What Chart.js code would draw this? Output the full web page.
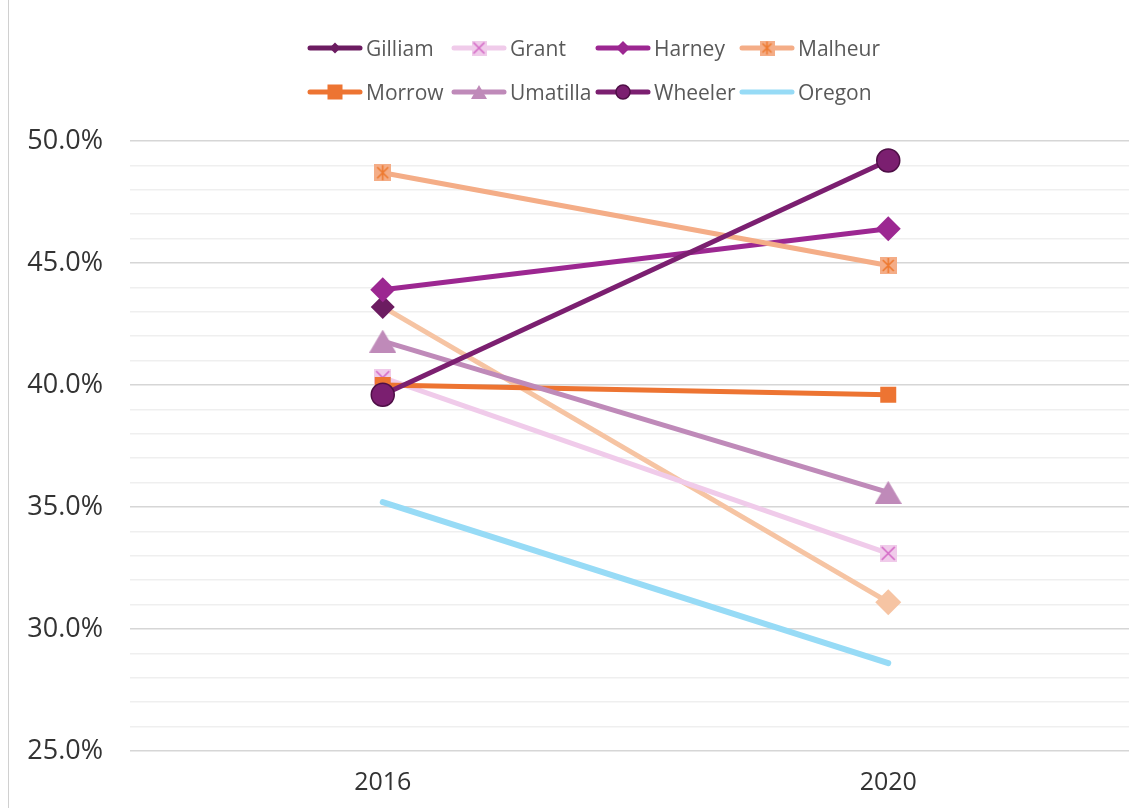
<!DOCTYPE html>
<html>
<head>
<meta charset="utf-8">
<script src="https://cdn.jsdelivr.net/npm/chart.js@4"></script>
<style>
  html, body { margin: 0; padding: 0; background: #fff; overflow: hidden; }
  #marco { position: relative; width: 1129px; height: 808px; overflow: hidden; }
  #borde { position: absolute; left: 8px; top: 0; width: 1px; height: 808px; background: #d0d0d0; }
  #caja { position: absolute; left: 0; top: 0; width: 1141px; height: 808px; }
  #leyenda {
    position: absolute; left: 307px; top: 26px;
    display: grid; grid-template-columns: repeat(4, 144px); grid-auto-rows: 44px;
    font-family: 'Open Sans', sans-serif; font-size: 21px; color: #595959;
  }
  .item { display: flex; align-items: center; white-space: nowrap; }
  .item canvas { margin-right: 3px; }
</style>
</head>
<body>
<div id="marco">
  <div id="borde"></div>
  <div id="caja"><canvas id="grafica" width="1141" height="808"></canvas></div>
  <div id="leyenda"></div>
</div>
<script>
// Datos
const anios = ['2016', '2020'];
const condados = ['Gilliam', 'Grant', 'Harney', 'Malheur', 'Morrow', 'Umatilla', 'Wheeler', 'Oregon'];
const gilliam = [43.2, 31.1];
const grant = [40.3, 33.1];
const harney = [43.9, 46.4];
const malheur = [48.7, 44.9];
const morrow = [40.0, 39.6];
const umatilla = [41.8, 35.6];
const wheeler = [39.6, 49.2];
const oregon = [35.2, 28.6];
const ticksY = [25, 30, 35, 40, 45, 50];

const colores = {
  gilliam: '#6c1c61', gilliamLinea: '#f6c4a3',
  grant: '#f0cbea', grantX: '#d468c6',
  harney: '#9c2791',
  malheur: '#f4ad87', malheurX: '#ee7a30',
  morrow: '#ed7432',
  umatilla: '#bf8ab9',
  wheeler: '#7b1f70', wheelerBorde: '#4e0f46',
  oregon: '#97dbf6'
};

function lienzo(w, h, dibujar) {
  const c = document.createElement('canvas');
  c.width = w; c.height = h;
  dibujar(c.getContext('2d'), w, h);
  return c;
}

// marcadores propios (cuadro con X, cuadro con asterisco, triangulo)
function cuadroX(lado, relleno, trazo) {
  return lienzo(lado, lado, (ctx, w, h) => {
    ctx.fillStyle = relleno;
    ctx.fillRect(0, 0, w, h);
    ctx.strokeStyle = trazo;
    ctx.lineWidth = 1.6;
    ctx.beginPath();
    ctx.moveTo(2, 2); ctx.lineTo(w - 2, h - 2);
    ctx.moveTo(w - 2, 2); ctx.lineTo(2, h - 2);
    ctx.stroke();
  });
}
function cuadroAsterisco(lado, relleno, trazo) {
  return lienzo(lado, lado, (ctx, w, h) => {
    ctx.fillStyle = relleno;
    ctx.fillRect(0, 0, w, h);
    ctx.strokeStyle = trazo;
    ctx.lineWidth = 1.6;
    ctx.beginPath();
    ctx.moveTo(3, 3); ctx.lineTo(w - 3, h - 3);
    ctx.moveTo(w - 3, 3); ctx.lineTo(3, h - 3);
    ctx.moveTo(w / 2, 1); ctx.lineTo(w / 2, h - 1);
    ctx.stroke();
  });
}
function triangulo(ancho, alto, relleno) {
  return lienzo(ancho, alto, (ctx, w, h) => {
    ctx.fillStyle = relleno;
    ctx.beginPath();
    ctx.moveTo(w / 2, 0); ctx.lineTo(w, h); ctx.lineTo(0, h);
    ctx.closePath();
    ctx.fill();
  });
}

const marcaGrant = cuadroX(17, colores.grant, colores.grantX);
const marcaMalheur = cuadroAsterisco(17, colores.malheur, colores.malheurX);
const marcaUmatilla = triangulo(27, 23, colores.umatilla);

const base = { borderWidth: 5, tension: 0, pointBorderWidth: 0 };

const datasets = [
  { ...base, label: 'Gilliam', data: gilliam, borderColor: colores.gilliamLinea,
    pointStyle: 'rectRot', pointRadius: [12, 13],
    pointBackgroundColor: [colores.gilliam, colores.gilliamLinea], pointBorderColor: [colores.gilliam, colores.gilliamLinea] },
  { ...base, label: 'Grant', data: grant, borderColor: colores.grant, pointStyle: marcaGrant, pointRadius: 9 },
  { ...base, label: 'Harney', data: harney, borderColor: colores.harney, backgroundColor: colores.harney,
    pointStyle: 'rectRot', pointRadius: 12.5 },
  { ...base, label: 'Malheur', data: malheur, borderColor: colores.malheur, pointStyle: marcaMalheur, pointRadius: 9 },
  { ...base, label: 'Morrow', data: morrow, borderColor: colores.morrow, backgroundColor: colores.morrow,
    pointStyle: 'rect', pointRadius: 11.3 },
  { ...base, label: 'Umatilla', data: umatilla, borderColor: colores.umatilla, pointStyle: marcaUmatilla, pointRadius: 12 },
  { ...base, label: 'Wheeler', data: wheeler, borderColor: colores.wheeler, backgroundColor: colores.wheeler,
    pointStyle: 'circle', pointRadius: 11.5, pointBorderWidth: 1.5, pointBorderColor: colores.wheelerBorde },
  { ...base, label: 'Oregon', data: oregon, borderColor: colores.oregon, borderWidth: 6,
    borderCapStyle: 'round', pointRadius: 0 }
];
// Excel pinta la primera serie abajo
datasets.forEach((d, i) => { d.order = datasets.length - i; });

new Chart(document.getElementById('grafica'), {
  type: 'line',
  data: { labels: anios, datasets: datasets },
  options: {
    responsive: false,
    animation: false,
    layout: { autoPadding: false, padding: { top: 141, left: 0, right: 0, bottom: 0 } },
    plugins: { legend: { display: false }, tooltip: { enabled: false } },
    scales: {
      x: {
        offset: true,
        grid: { display: false, drawTicks: false },
        border: { display: false },
        ticks: { color: '#333', padding: 17, font: { family: 'Open Sans', size: 25 } },
        afterFit: s => { s.height = 57; }
      },
      y: {
        min: 25, max: 50,
        border: { display: false },
        grid: {
          drawTicks: false,
          lineWidth: 1.5,
          color: c => ticksY.includes(c.tick.value) ? '#d6d6d6' : '#efefef'
        },
        ticks: {
          stepSize: 1, autoSkip: false, padding: 27, color: '#333',
          font: { family: 'Open Sans', size: 27 },
          callback: v => ticksY.includes(v) ? v.toFixed(1) + '%' : ''
        },
        afterFit: s => { s.width = 130; }
      }
    }
  }
});

// Leyenda en rejilla de 4 columnas: linea con marcador al centro
function muestra(color, marca) {
  return lienzo(56, 24, (ctx, w, h) => {
    ctx.strokeStyle = color;
    ctx.lineWidth = 5;
    ctx.lineCap = 'round';
    ctx.beginPath();
    ctx.moveTo(3, h / 2); ctx.lineTo(w - 3, h / 2);
    ctx.stroke();
    if (marca) marca(ctx, w / 2, h / 2);
  });
}
function diamante(color, r) {
  return (ctx, x, y) => {
    ctx.fillStyle = color;
    ctx.beginPath();
    ctx.moveTo(x, y - r); ctx.lineTo(x + r, y); ctx.lineTo(x, y + r); ctx.lineTo(x - r, y);
    ctx.closePath(); ctx.fill();
  };
}
function imagen(img, escala) {
  return (ctx, x, y) => {
    const w = img.width * escala, h = img.height * escala;
    ctx.drawImage(img, x - w / 2, y - h / 2, w, h);
  };
}
const muestras = [
  muestra(colores.gilliam, diamante(colores.gilliam, 5.5)),
  muestra(colores.grant, imagen(cuadroX(15, colores.grant, colores.grantX), 1)),
  muestra(colores.harney, diamante(colores.harney, 7)),
  muestra(colores.malheur, imagen(cuadroAsterisco(15, colores.malheur, colores.malheurX), 1)),
  muestra(colores.morrow, (ctx, x, y) => { ctx.fillStyle = colores.morrow; ctx.fillRect(x - 7.5, y - 7.5, 15, 15); }),
  muestra(colores.umatilla, imagen(triangulo(16, 14, colores.umatilla), 1)),
  muestra(colores.wheeler, (ctx, x, y) => {
    ctx.fillStyle = colores.wheeler; ctx.strokeStyle = colores.wheelerBorde; ctx.lineWidth = 1.5;
    ctx.beginPath(); ctx.arc(x, y, 7, 0, Math.PI * 2); ctx.fill(); ctx.stroke();
  }),
  muestra(colores.oregon, null)
];
const leyenda = document.getElementById('leyenda');
condados.forEach((nombre, i) => {
  const item = document.createElement('div');
  item.className = 'item';
  item.appendChild(muestras[i]);
  const span = document.createElement('span');
  span.textContent = nombre;
  item.appendChild(span);
  leyenda.appendChild(item);
});
</script>
</body>
</html>
